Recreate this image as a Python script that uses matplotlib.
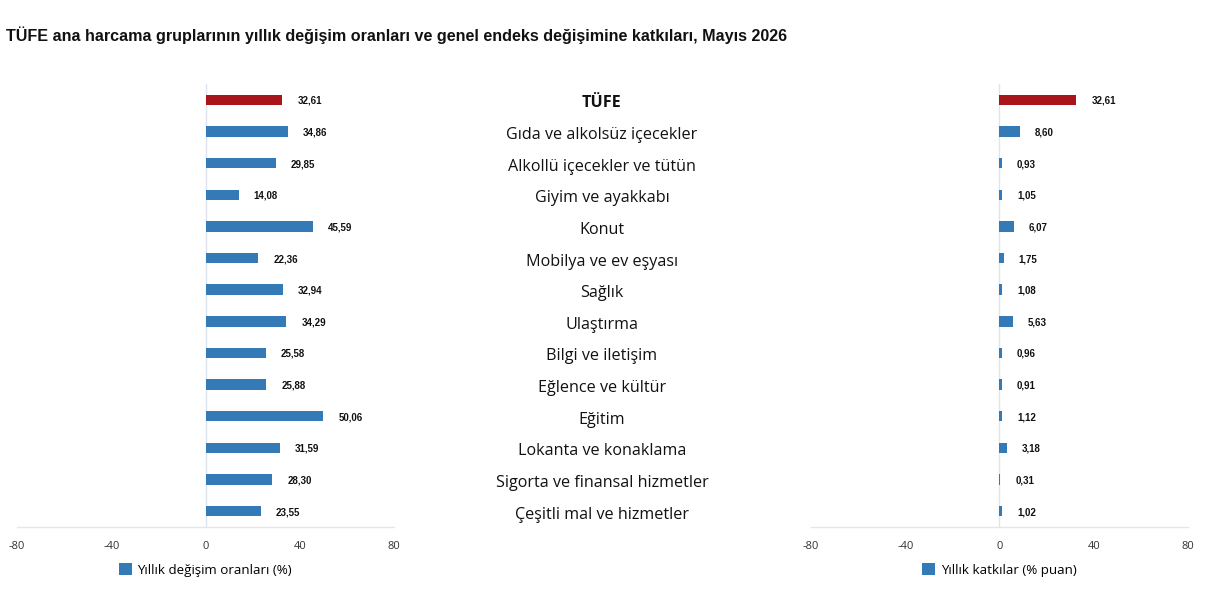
import matplotlib
matplotlib.use("Agg")
import matplotlib.pyplot as plt
from matplotlib.transforms import blended_transform_factory, offset_copy
from matplotlib.patches import Patch

categories = ["TÜFE", "Gıda ve alkolsüz içecekler", "Alkollü içecekler ve tütün",
              "Giyim ve ayakkabı", "Konut", "Mobilya ve ev eşyası", "Sağlık",
              "Ulaştırma", "Bilgi ve iletişim", "Eğlence ve kültür", "Eğitim",
              "Lokanta ve konaklama", "Sigorta ve finansal hizmetler",
              "Çeşitli mal ve hizmetler"]
annual_change = [32.61, 34.86, 29.85, 14.08, 45.59, 22.36, 32.94, 34.29,
                 25.58, 25.88, 50.06, 31.59, 28.30, 23.55]
contribution = [32.61, 8.60, 0.93, 1.05, 6.07, 1.75, 1.08, 5.63,
                0.96, 0.91, 1.12, 3.18, 0.31, 1.02]
xticks = [-80, -40, 0, 40, 80]
legend_left = "Yıllık değişim oranları (%)"
legend_right = "Yıllık katkılar (% puan)"
title = "TÜFE ana harcama gruplarının yıllık değişim oranları ve genel endeks değişimine katkıları, Mayıs 2026"

RED = "#a8161c"
BLUE = "#337ab7"
FONT = ["Open Sans", "DejaVu Sans"]

fig = plt.figure(figsize=(12.1, 5.89), dpi=100)
fig.patch.set_facecolor("white")

axL = fig.add_axes([17/1210, 1-527/589, (394-17)/1210, (527-84)/589])
axR = fig.add_axes([811/1210, 1-527/589, (1188-811)/1210, (527-84)/589])

n = len(categories)
ypos = list(range(n))
colors = [RED] + [BLUE]*(n-1)

def fmt(v):
    return f"{v:.2f}".replace(".", ",")

for ax, vals, leg in [(axL, annual_change, legend_left), (axR, contribution, legend_right)]:
    ax.barh(ypos, vals, height=0.33, color=colors, zorder=3)
    ax.set_xlim(-80, 80)
    ax.set_ylim(n-0.5, -0.5)
    ax.set_xticks(xticks)
    ax.set_xticklabels([str(t) for t in xticks], fontsize=8, color="#333333", family=FONT)
    ax.set_yticks([])
    ax.tick_params(axis="x", length=0, pad=10)
    for s in ["top", "right", "left"]:
        ax.spines[s].set_visible(False)
    ax.spines["bottom"].set_color("#e6e6e6")
    ax.spines["bottom"].set_linewidth(1.0)
    ax.axvline(0, color="#dde4ee", linewidth=1.0, zorder=1)
    trans = offset_copy(ax.transData, fig=fig, x=15, y=-1, units="dots")
    for y, v in zip(ypos, vals):
        ax.text(v, y, fmt(v), transform=trans, ha="left", va="center",
                fontsize=7, fontweight="bold", family=["Liberation Sans", "DejaVu Sans"],
                color="#111111")
    ax.legend(handles=[Patch(facecolor=BLUE, edgecolor="none")], labels=[leg],
              loc="center", bbox_to_anchor=(0.5, -(570-527)/443), frameon=False,
              handlelength=0.95, handleheight=0.95, handletextpad=0.45,
              borderpad=0.1, prop={"family": FONT, "size": 9.6})

tr = offset_copy(blended_transform_factory(fig.transFigure, axL.transData),
                 fig=fig, x=0, y=-3.5, units="dots")
for i, c in enumerate(categories):
    fig.text(602/1210, i, c, transform=tr, ha="center", va="center",
             fontsize=11.6, fontweight="bold" if i == 0 else "normal",
             family=FONT, color="#111111")

fig.text(6/1210, 1-35/589, title, ha="left", va="center", fontsize=11.6,
         fontweight="bold", family=["Liberation Sans", "DejaVu Sans"],
         color="#111111")

fig.savefig("out.png", dpi=100, facecolor="white")
